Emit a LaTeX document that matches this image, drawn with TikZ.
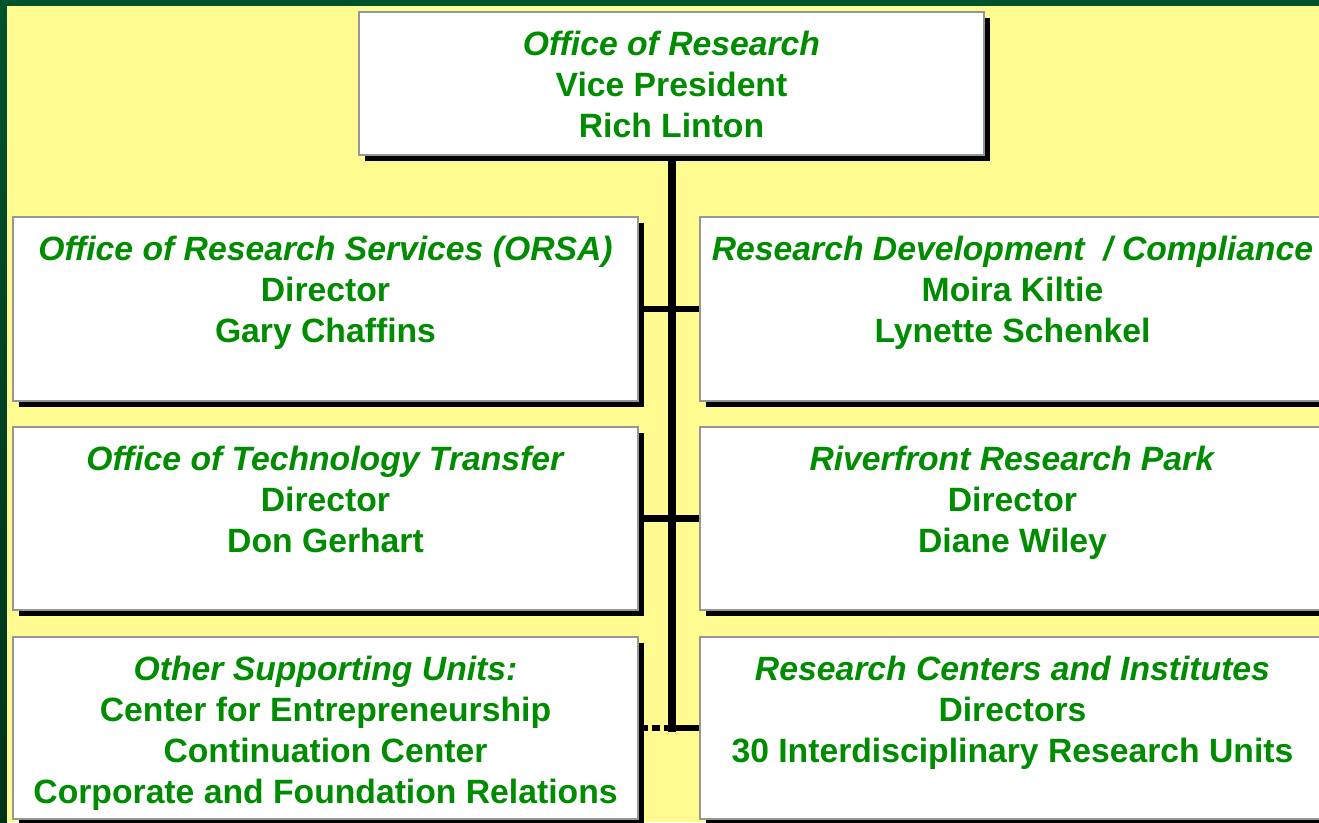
\documentclass[tikz,border=0pt]{standalone}
\usepackage{fontspec}
\setmainfont{Liberation Sans}
\usetikzlibrary{shadows}
\definecolor{bgyellow}{RGB}{255,251,145}
\definecolor{darkgreen}{RGB}{0,82,44}
\definecolor{darkgreenb}{RGB}{0,50,26}
\definecolor{txtgreen}{RGB}{0,140,0}
\definecolor{boxgray}{RGB}{150,150,150}
\pgfdeclarelayer{bg}
\pgfdeclarelayer{lines}
\pgfsetlayers{bg,lines,main}
\begin{document}
\begin{tikzpicture}[x=1pt,y=-1pt,
  orgbox/.style={draw=boxgray, line width=2pt, fill=white, rectangle,
    inner sep=0pt, outer sep=0pt, minimum width=625pt,
    general shadow={fill=black, shadow xshift=5.5pt, shadow yshift=-6pt}},
  orgtext/.style={align=center, text=txtgreen,
    font=\fontsize{33.7}{41}\selectfont\bfseries, inner sep=0pt, anchor=north},
  link/.style={line width=6.7pt, draw=black},
  trunk/.style={line width=8pt, draw=black, line cap=rect}]
\useasboundingbox (0,0) rectangle (1319,822);
\clip (0,0) rectangle (1319,822);
\begin{pgfonlayer}{bg}
  \fill[darkgreen] (0,0) rectangle (1319,822);
  \shade[top color=darkgreen, bottom color=darkgreenb] (0,0) rectangle (7,822);
  \fill[bgyellow] (7,6) rectangle (1319,822);
\end{pgfonlayer}

% boxes
\node[orgbox, minimum height=143pt] (b0) at (671.5,83.5) {};
\node[orgbox, minimum height=184pt] (l1) at (325.5,309) {};
\node[orgbox, minimum height=184pt] (r1) at (1012.5,309) {};
\node[orgbox, minimum height=183pt] (l2) at (325.5,518.5) {};
\node[orgbox, minimum height=183pt] (r2) at (1012.5,518.5) {};
\node[orgbox, minimum height=182pt] (l3) at (325.5,728) {};
\node[orgbox, minimum height=182pt] (r3) at (1012.5,728) {};

% texts
\node[orgtext] (t0) at ([yshift=-18.5pt]b0.north) {\textit{Office of Research}\\Vice President\\Rich Linton};
\node[orgtext] (tl1) at ([yshift=-18.5pt]l1.north) {\textit{Office of Research Services (ORSA)}\\Director\\Gary Chaffins};
\node[orgtext] (tr1) at ([yshift=-18.5pt]r1.north) {\textit{Research Development\ \ / Compliance}\\Moira Kiltie\\Lynette Schenkel};
\node[orgtext] (tl2) at ([yshift=-18.5pt]l2.north) {\textit{Office of Technology Transfer}\\Director\\Don Gerhart};
\node[orgtext] (tr2) at ([yshift=-18.5pt]r2.north) {\textit{Riverfront Research Park}\\Director\\Diane Wiley};
\node[orgtext] (tl3) at ([yshift=-18.5pt]l3.north) {\textit{Other Supporting Units:}\\Center for Entrepreneurship\\Continuation Center\\Corporate and Foundation Relations};
\node[orgtext] (tr3) at ([yshift=-18.5pt]r3.north) {\textit{Research Centers and Institutes}\\Directors\\30 Interdisciplinary Research Units};

% connectors
\coordinate (j3) at (b0.south |- l3.east);
\begin{pgfonlayer}{lines}
  \draw[link] (l1.east) -- (r1.west);
  \draw[link] (l2.east) -- (r2.west);
  \draw[link] (j3) -- (r3.west);
  \draw[link, dash pattern=on 8pt off 4pt] (j3) -- (l3.east);
  \draw[trunk] (b0.south) -- (j3);
\end{pgfonlayer}
\end{tikzpicture}
\end{document}
